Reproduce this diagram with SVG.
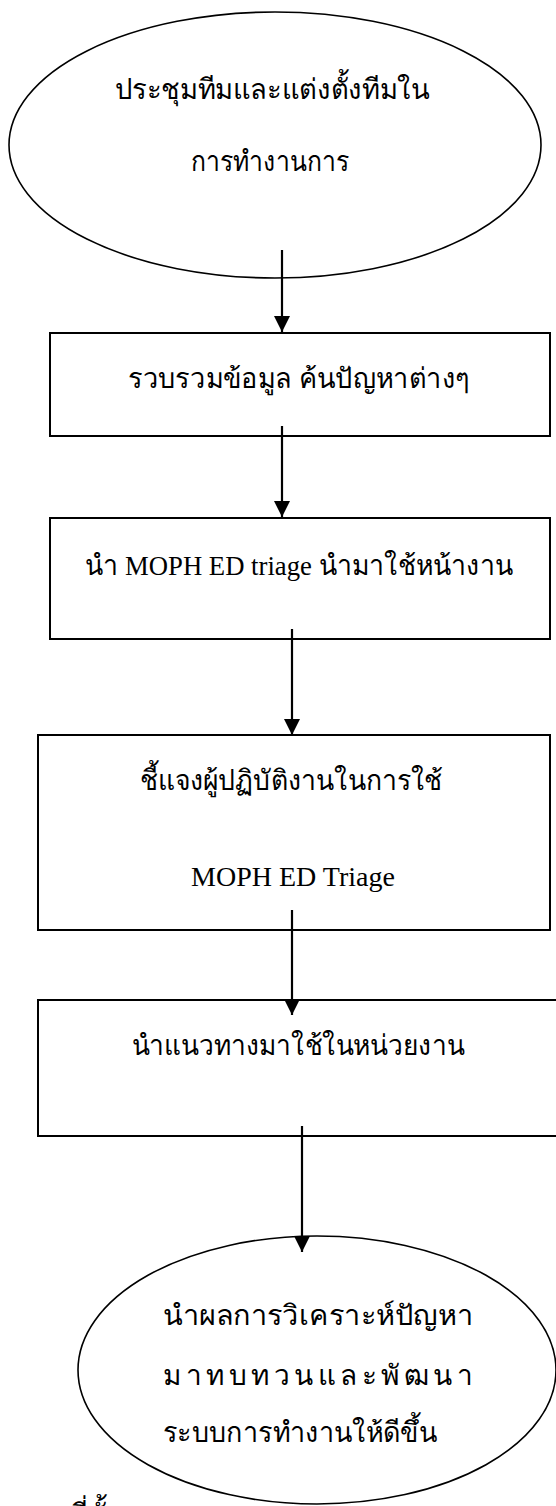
<svg xmlns="http://www.w3.org/2000/svg" width="556" height="1506" viewBox="0 0 556 1506">
  <defs>
    <marker id="arrow" viewBox="0 0 16 16" refX="16" refY="8" markerWidth="16" markerHeight="16" markerUnits="userSpaceOnUse" orient="auto">
      <path d="M0,0 L16,8 L0,16 Z" fill="#000"/>
    </marker>
  </defs>
  <style>
    .shape { fill: #fff; stroke: #000; stroke-width: 2; }
    .ell { fill: #fff; stroke: #000; stroke-width: 1.6; }
    .lbl { font-family: "Liberation Serif", "DejaVu Serif", serif; font-size: 28px; fill: #000; text-anchor: middle; }
    .conn { stroke: #000; stroke-width: 2.2; fill: none; marker-end: url(#arrow); }
  </style>
  <rect width="556" height="1506" fill="#fff"/>

  <g id="n1">
    <ellipse class="ell" cx="275" cy="145" rx="266" ry="133"/>
    <text class="lbl" x="272" y="99" textLength="315" lengthAdjust="spacingAndGlyphs">ประชุมทีมและแต่งตั้งทีมใน</text>
    <text class="lbl" x="270" y="171" textLength="158" lengthAdjust="spacingAndGlyphs">การทำงานการ</text>
  </g>

  <g id="n2">
    <rect class="shape" x="50" y="333" width="500" height="103"/>
    <text class="lbl" x="299" y="388" textLength="342" lengthAdjust="spacingAndGlyphs">รวบรวมข้อมูล ค้นปัญหาต่างๆ</text>
  </g>

  <g id="n3">
    <rect class="shape" x="50" y="518" width="500" height="121"/>
    <text class="lbl" x="299" y="575" textLength="428" lengthAdjust="spacingAndGlyphs">นำ MOPH ED triage นำมาใช้หน้างาน</text>
  </g>

  <g id="n4">
    <rect class="shape" x="38" y="735" width="512" height="195"/>
    <text class="lbl" x="291" y="790" textLength="303" lengthAdjust="spacingAndGlyphs">ชี้แจงผู้ปฏิบัติงานในการใช้</text>
    <text class="lbl" x="293" y="886">MOPH ED Triage</text>
  </g>

  <g id="n5">
    <rect class="shape" x="38" y="1000" width="530" height="136"/>
    <text class="lbl" x="298" y="1055" textLength="333" lengthAdjust="spacingAndGlyphs">นำแนวทางมาใช้ในหน่วยงาน</text>
  </g>

  <g id="n6">
    <ellipse class="ell" cx="317" cy="1370" rx="239" ry="134"/>
    <text class="lbl" x="318" y="1325" textLength="310" lengthAdjust="spacingAndGlyphs">นำผลการวิเคราะห์ปัญหา</text>
    <text class="lbl" x="318" y="1385" textLength="310" lengthAdjust="spacing">มาทบทวนและพัฒนา</text>
    <text class="lbl" x="300" y="1442" textLength="274" lengthAdjust="spacingAndGlyphs">ระบบการทำงานให้ดีขึ้น</text>
  </g>

  <g id="fragment">
    <text class="lbl" x="70" y="1524" style="text-anchor:start">ที่ตั้ง</text>
  </g>

  <g id="connectors">
    <line class="conn" x1="282" y1="250" x2="282" y2="332"/>
    <line class="conn" x1="282" y1="426" x2="282" y2="517"/>
    <line class="conn" x1="292" y1="629" x2="292" y2="735"/>
    <line class="conn" x1="292" y1="910" x2="292" y2="1015"/>
    <line class="conn" x1="302" y1="1126" x2="302" y2="1252"/>
  </g>
</svg>
